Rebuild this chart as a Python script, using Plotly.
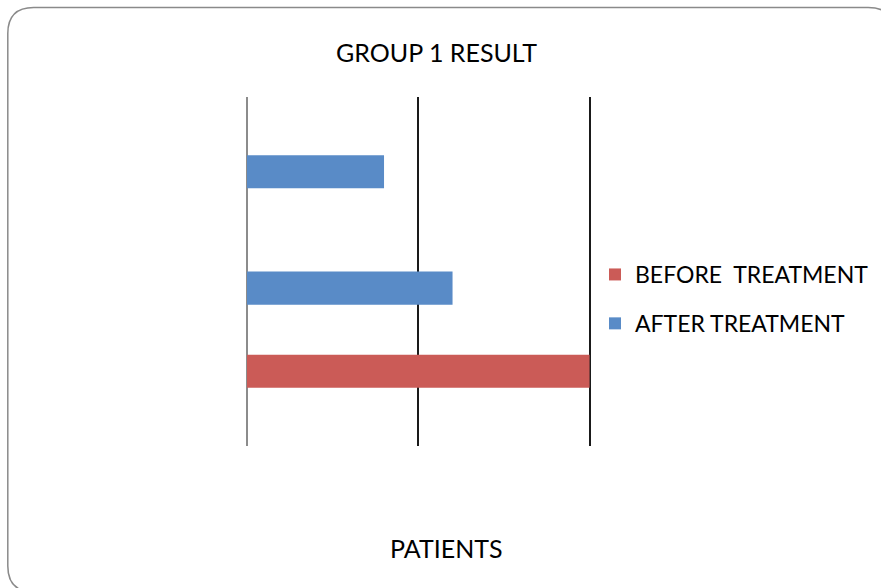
import plotly.graph_objects as go

# Patient groups (bottom to top) and treatment results
patients = ["P1", "P2", "P3"]
before_treatment = [2.0, None, None]
after_treatment = [None, 1.2, 0.8]

series_names = ["BEFORE  TREATMENT", "AFTER TREATMENT"]
series_colors = ["#CB5B57", "#598BC7"]

chart_title = "GROUP 1 RESULT"
axis_title = "PATIENTS"

FONT = "Lato, 'Open Sans', sans-serif"

X_MAX = 2.02  # a little past the last gridline so it is drawn
W, H = 881, 588
L, T, B = 247, 97, 142
unit_px = 171.5
pw = unit_px * X_MAX
R = W - L - pw
ph = H - T - B


def px_x(x):
    return (x - L) / pw


def px_y(y):
    return (H - B - y) / ph


fig = go.Figure()
# AFTER trace first so it sits in the lower slot of each group
fig.add_trace(go.Bar(
    y=patients, x=after_treatment, orientation="h",
    name=series_names[1], marker=dict(color=series_colors[1], line=dict(width=0)),
    legendrank=2, legendgroup="after",
))
fig.add_trace(go.Bar(
    y=patients, x=before_treatment, orientation="h",
    name=series_names[0], marker=dict(color=series_colors[0], line=dict(width=0)),
    legendrank=1, legendgroup="before",
))

# rounded outer frame of the chart area
x0, y0 = px_x(7.5), px_y(7.5)
x1, y1 = px_x(895), px_y(592)
rx, ry = 26 / pw, 26 / ph
frame = (
    f"M {x0 + rx} {y0} L {x1 - rx} {y0} Q {x1} {y0} {x1} {y0 - ry} "
    f"L {x1} {y1 + ry} Q {x1} {y1} {x1 - rx} {y1} "
    f"L {x0 + rx} {y1} Q {x0} {y1} {x0} {y1 + ry} "
    f"L {x0} {y0 - ry} Q {x0} {y0} {x0 + rx} {y0} Z"
)

fig.update_layout(
    width=W, height=H,
    margin=dict(l=L, r=R, t=T, b=B, autoexpand=False),
    paper_bgcolor="white", plot_bgcolor="white",
    barmode="group", bargap=0.43, bargroupgap=0,
    font=dict(family=FONT, color="#000000"),
    showlegend=True,
    legend=dict(
        xref="container", yref="container",
        x=595 / W, y=1 - 253 / H, xanchor="left", yanchor="top",
        font=dict(size=23, family=FONT, color="#000000"),
        traceorder="grouped", itemwidth=30, tracegroupgap=16,
        bgcolor="rgba(0,0,0,0)",
    ),
    shapes=[dict(
        type="path", path=frame, xref="paper", yref="paper",
        line=dict(color="#8a8a8a", width=1.5), fillcolor="rgba(0,0,0,0)",
        layer="below",
    )],
    annotations=[
        dict(text=chart_title, x=px_x(437), y=px_y(52), xref="paper", yref="paper",
             showarrow=False, xanchor="center", yanchor="middle",
             font=dict(size=25, family=FONT, color="#000000")),
        dict(text=axis_title, x=px_x(446), y=px_y(548), xref="paper", yref="paper",
             showarrow=False, xanchor="center", yanchor="middle",
             font=dict(size=25, family=FONT, color="#000000")),
    ],
)

fig.update_xaxes(
    range=[0, X_MAX], dtick=1, tick0=0,
    showgrid=True, gridcolor="#1a1a1a", gridwidth=2,
    zeroline=True, zerolinecolor="#8c8c8c", zerolinewidth=2,
    showticklabels=False, ticks="", showline=False,
)
fig.update_yaxes(
    range=[-0.5, 2.5], showgrid=False, zeroline=False,
    showticklabels=False, ticks="", showline=False,
)

fig.write_html("out.html")
